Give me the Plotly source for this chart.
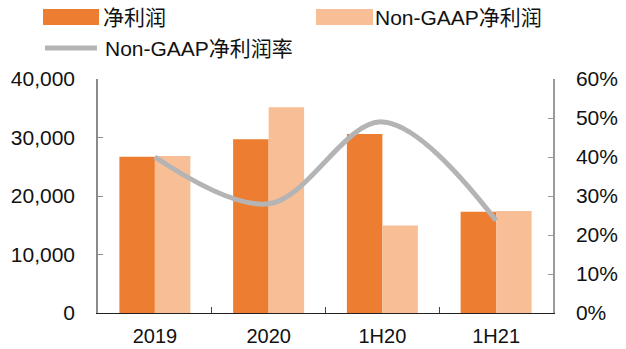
import plotly.graph_objects as go

# Periods and values
periods = ["2019", "2020", "1H20", "1H21"]
net_profit = [26700, 29700, 30600, 17300]          # 净利润
non_gaap_profit = [26850, 35150, 14950, 17450]     # Non-GAAP净利润
non_gaap_margin = [0.40, 0.28, 0.49, 0.237]        # Non-GAAP净利润率

left_ticks = [0, 10000, 20000, 30000, 40000]
right_ticks = [0, 0.1, 0.2, 0.3, 0.4, 0.5, 0.6]

ORANGE = "#ED7D31"
PEACH = "#F8BF96"
GREY = "#B4B4B4"
FONT = "Liberation Sans, Arial, Noto Sans CJK SC, sans-serif"

W, H = 626, 349
L, R, T, B = 98, 73, 79, 36
PW, PH = W - L - R, H - T - B


def px_x(x):
    return (x - L) / PW


def px_y(y):
    return (H - B - y) / PH


fig = go.Figure()
fig.add_trace(go.Bar(x=periods, y=net_profit, name="净利润",
                     marker=dict(color=ORANGE, line=dict(width=0)),
                     showlegend=False))
fig.add_trace(go.Bar(x=periods, y=non_gaap_profit, name="Non-GAAP净利润",
                     marker=dict(color=PEACH, line=dict(width=0)),
                     showlegend=False))
fig.add_trace(go.Scatter(x=periods, y=non_gaap_margin, name="Non-GAAP净利润率",
                         yaxis="y2", mode="lines",
                         line=dict(color=GREY, width=5, shape="spline", smoothing=1),
                         showlegend=False))

# Legend drawn as swatches plus labels
shapes = [
    dict(type="rect", xref="paper", yref="paper",
         x0=px_x(43), x1=px_x(99), y0=px_y(25), y1=px_y(9),
         fillcolor=ORANGE, line=dict(width=0), layer="above"),
    dict(type="rect", xref="paper", yref="paper",
         x0=px_x(316), x1=px_x(373), y0=px_y(25), y1=px_y(9),
         fillcolor=PEACH, line=dict(width=0), layer="above"),
    dict(type="line", xref="paper", yref="paper",
         x0=px_x(45), x1=px_x(97), y0=px_y(48), y1=px_y(48),
         line=dict(color=GREY, width=5), layer="above"),
]
legend_labels = [("净利润", 101, 17), ("Non-GAAP净利润", 373, 17),
                 ("Non-GAAP净利润率", 103, 48)]
annotations = [
    dict(text=t, x=px_x(x), y=px_y(y), xref="paper", yref="paper",
         xanchor="left", yanchor="middle", showarrow=False,
         font=dict(size=21, color="#111111", family=FONT))
    for t, x, y in legend_labels
]

fig.update_layout(
    width=W, height=H,
    margin=dict(l=L, r=R, t=T, b=B, pad=0, autoexpand=False),
    paper_bgcolor="white", plot_bgcolor="white",
    barmode="group", bargap=0.376, bargroupgap=0,
    font=dict(family=FONT, size=21, color="#111111"),
    shapes=shapes, annotations=annotations,
    xaxis=dict(showgrid=False, showline=True, linecolor="#222222", linewidth=1,
               ticks="inside", ticklen=6, tickcolor="#444444",
               tickson="boundaries", ticklabelstandoff=5, automargin=False,
               tickfont=dict(size=20)),
    yaxis=dict(range=[0, 40000], tickvals=left_ticks, tickformat=",",
               showgrid=False, zeroline=False, showline=True,
               linecolor="#8a8a8a", linewidth=1.5, automargin=False,
               ticks="inside", ticklen=5, tickcolor="#8a8a8a",
               ticklabelstandoff=17, tickfont=dict(size=21)),
    yaxis2=dict(range=[0, 0.6], tickvals=right_ticks, tickformat=".0%",
                overlaying="y", side="right", showgrid=False, zeroline=False,
                showline=True, linecolor="#9a9a9a", linewidth=1.5, automargin=False,
                ticks="inside", ticklen=5, tickcolor="#9a9a9a",
                ticklabelstandoff=17, tickfont=dict(size=21)),
)

fig.write_html("out.html")
